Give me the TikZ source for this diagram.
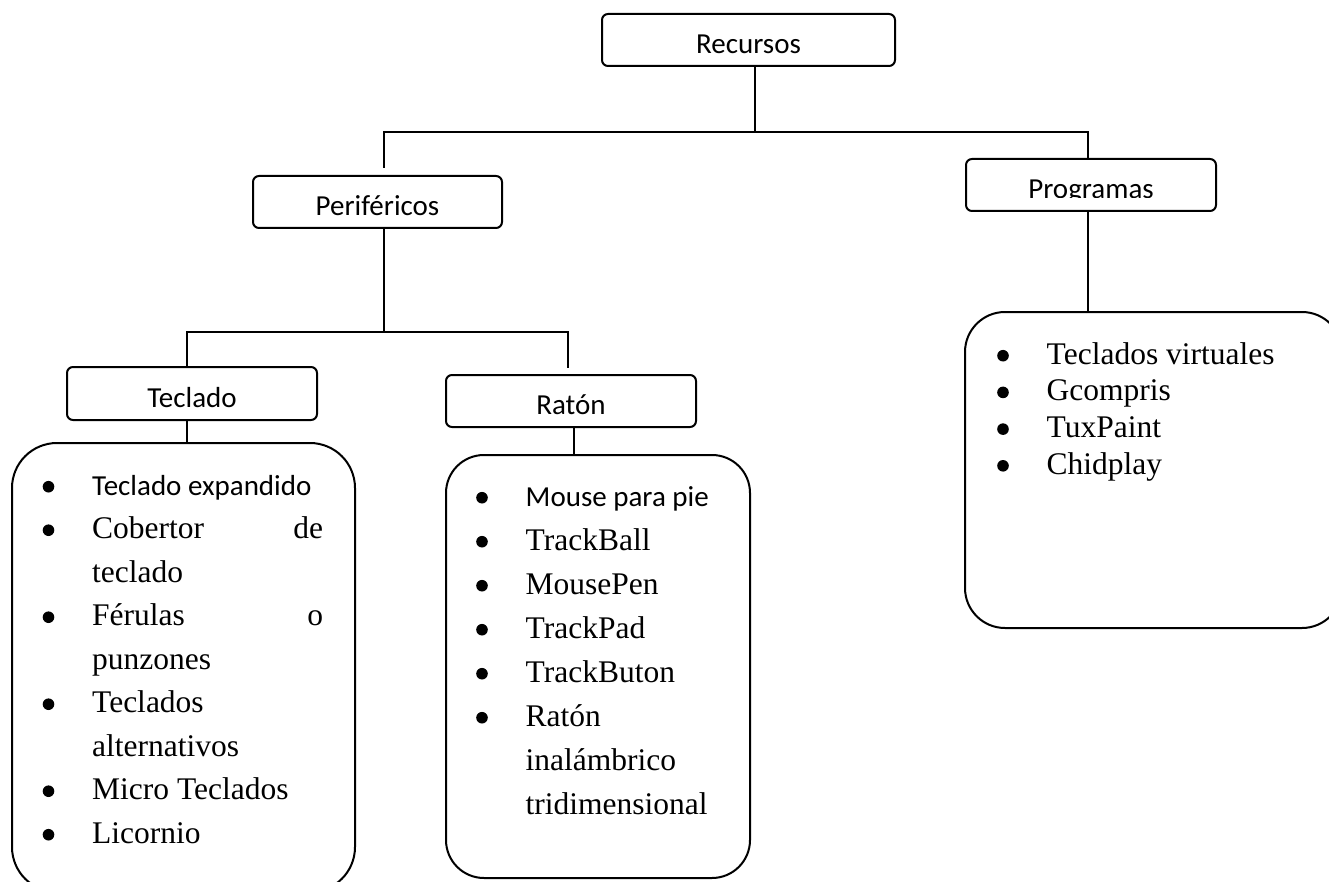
\documentclass[tikz,border=0pt]{standalone}
\usepackage{fontspec}
\setmainfont{Liberation Serif}
\newfontfamily\calibri{Carlito}
\newcommand\bulletdot{\tikz[baseline=0pt]\fill[black] (0pt,8.3pt) circle (5.8pt);}
\newcommand\bl{\makebox[49.5pt][l]{\bulletdot}}
\newcommand\ind{\hspace*{49.5pt}}
\newcommand\lblfont{\calibri\fontsize{29}{34}\selectfont}
\newcommand\listfont[1]{\fontsize{31.5}{#1}\selectfont\lineskiplimit=-100pt}
\begin{document}
\begin{tikzpicture}[x=1pt,y=-1pt,
  lbl/.style={draw, line width=2pt, rounded corners=6pt, inner sep=0pt,
    minimum height=52pt, text height=27pt, text depth=0pt, font=\lblfont},
  listbox/.style={draw, line width=2pt, inner sep=0pt},
  conn/.style={line width=2pt},
  listtext/.style={anchor=base west, inner sep=0pt}]
\useasboundingbox (0,0) rectangle (1329,882);
\fill[white] (0,0) rectangle (1329,882);
\clip (0,0) rectangle (1329,882);

% label boxes
\node[lbl, minimum width=293pt] (rec) at (748.5,40) {Recursos};
\node[lbl, minimum width=249pt] (per) at (377.5,202) {Periféricos};
\node[lbl, minimum width=250pt] (prog) at (1091,185) {};
\begin{scope}
  \clip (966,159) rectangle (1216,198);
  \node[lbl, draw=none, minimum width=250pt] (progtext) at (1091,185) {Programas};
\end{scope}
\node[lbl, minimum width=250pt, minimum height=53pt] (tec) at (192,393.5) {Teclado};
\node[lbl, minimum width=250pt] (rat) at (571,401) {Ratón};

% list boxes
\node[listbox, rounded corners=45pt, minimum width=343pt, minimum height=449pt] (tlist) at (183.5,667.5) {};
\node[listbox, rounded corners=38pt, minimum width=304pt, minimum height=423pt] (rlist) at (598,666.5) {};
\node[listbox, rounded corners=40pt, minimum width=377pt, minimum height=316pt] (plist) at (1153.5,470) {};

% list texts
\node[listtext] (ttext) at (42.5,495) {\parbox[t]{320pt}{\listfont{43.5pt}%
  \bl{\calibri\fontsize{29}{43.5}\selectfont Teclado expandido}\\
  \bl\makebox[231pt][l]{Cobertor\hfill de}\\
  \ind teclado\\
  \bl\makebox[231pt][l]{Férulas\hfill o}\\
  \ind punzones\\
  \bl Teclados\\
  \ind alternativos\\
  \bl Micro Teclados\\
  \bl Licornio}};
\node[listtext] (rtext) at (476,506) {\parbox[t]{280pt}{\listfont{44pt}%
  \bl{\calibri\fontsize{29}{44}\selectfont Mouse para pie}\\
  \bl TrackBall\\
  \bl MousePen\\
  \bl TrackPad\\
  \bl TrackButon\\
  \bl Ratón\\
  \ind inalámbrico\\
  \ind tridimensional}};
\node[listtext] (ptext) at (997,364) {\parbox[t]{330pt}{\listfont{36.7pt}%
  \bl Teclados virtuales\\
  \bl Gcompris\\
  \bl TuxPaint\\
  \bl Chidplay}};

% connectors
\coordinate (jtop) at (755,132);
\coordinate (pstub) at (384,168);
\coordinate (progtop) at (1088,159);
\coordinate (jmid) at (384,332);
\coordinate (tectop) at (187,367);
\coordinate (ratstub) at (568,368);
\coordinate (ratdown) at (574,440);

\draw[conn] (rec.south -| jtop) -- (jtop);
\draw[conn] (pstub) |- (jtop) -| (progtop);
\draw[conn] (per.south -| jmid) -- (jmid);
\draw[conn] (tectop) |- (jmid) -| (ratstub);
\draw[conn] (tec.south -| tectop) -- (tlist.north -| tectop);
\draw[conn] (rat.south -| ratdown) -- (rlist.north -| ratdown);
\draw[conn] (prog.south -| progtop) -- (plist.north -| progtop);
\end{tikzpicture}
\end{document}
